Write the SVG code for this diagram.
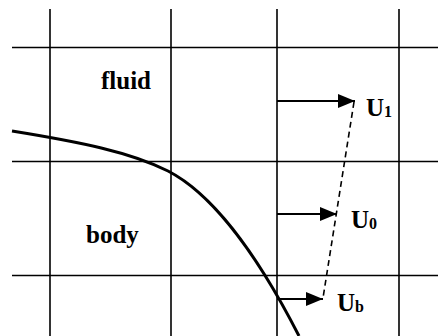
<svg xmlns="http://www.w3.org/2000/svg" width="438" height="336" viewBox="0 0 438 336">
<style>
.grid{stroke:#000;stroke-width:1.6;fill:none}
.curve{stroke:#000;stroke-width:3;fill:none}
.arr{stroke:#000;stroke-width:1.8;fill:none}
.dash{stroke:#000;stroke-width:1.6;fill:none;stroke-dasharray:6,4}
.lbl{font-family:"Liberation Serif","Times New Roman",serif;font-weight:bold;font-size:25px;fill:#000}
.u{font-family:"Liberation Serif","Times New Roman",serif;font-weight:bold;font-size:25px;fill:#000}
.sub{font-size:16px}
</style>
<defs>
<marker id="ah" markerWidth="17" markerHeight="14" refX="17" refY="7" orient="auto" markerUnits="userSpaceOnUse">
<path d="M0,0 L17,7 L0,14 Z" fill="#000"/>
</marker>
</defs>
<g id="grid">
<line class="grid" x1="50" y1="9" x2="50" y2="336"/>
<line class="grid" x1="171" y1="9" x2="171" y2="336"/>
<line class="grid" x1="277" y1="9" x2="277" y2="336"/>
<line class="grid" x1="399" y1="9" x2="399" y2="336"/>
<line class="grid" x1="12" y1="47.5" x2="438" y2="47.5"/>
<line class="grid" x1="12" y1="161.5" x2="438" y2="161.5"/>
<line class="grid" x1="12" y1="275.5" x2="438" y2="275.5"/>
</g>
<g id="body-surface">
<path class="curve" d="M12,131 C80,142 130,152 168,171 C205,190 250,240 299,336"/>
</g>
<g id="connectors">
<line class="arr" x1="277" y1="101" x2="355" y2="101" marker-end="url(#ah)"/>
<line class="arr" x1="277" y1="214" x2="337" y2="214" marker-end="url(#ah)"/>
<line class="arr" x1="277" y1="299" x2="323" y2="299" marker-end="url(#ah)"/>
<line class="dash" x1="354" y1="102" x2="323" y2="298"/>
</g>
<g id="label-fluid"><text class="lbl" x="101" y="89">fluid</text></g>
<g id="label-body"><text class="lbl" x="86" y="243">body</text></g>
<g id="label-U1"><text class="u" x="366" y="116">U<tspan class="sub" dy="1">1</tspan></text></g>
<g id="label-U0"><text class="u" x="351" y="228">U<tspan class="sub" dy="1">0</tspan></text></g>
<g id="label-Ub"><text class="u" x="337" y="311">U<tspan class="sub" dy="1">b</tspan></text></g>
</svg>
